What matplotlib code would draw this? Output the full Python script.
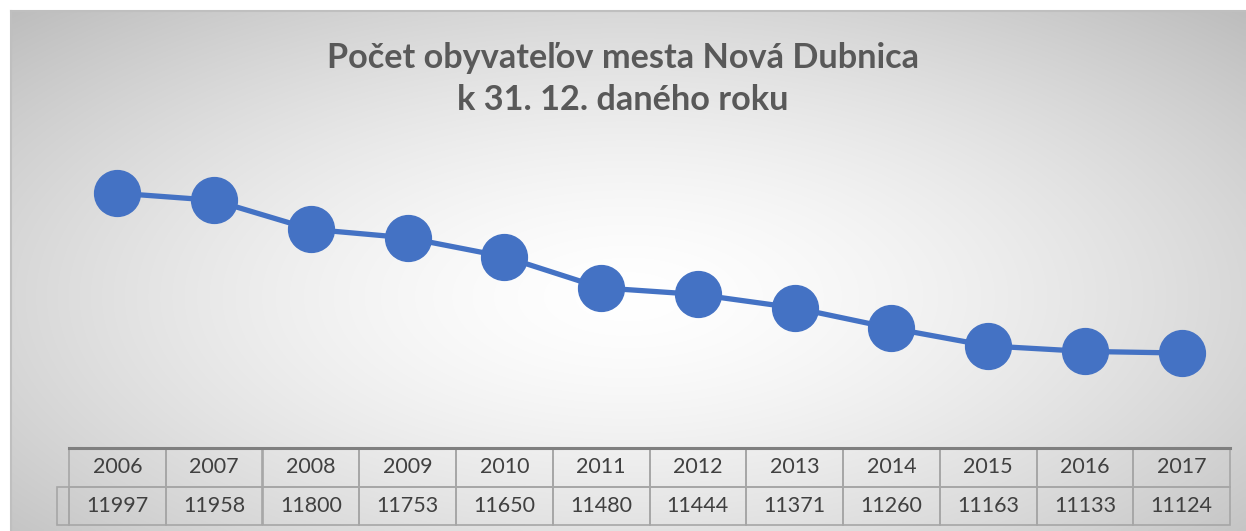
import numpy as np
import matplotlib.pyplot as plt

years = ['2006', '2007', '2008', '2009', '2010', '2011',
         '2012', '2013', '2014', '2015', '2016', '2017']
population = [11997, 11958, 11800, 11753, 11650, 11480,
              11444, 11371, 11260, 11163, 11133, 11124]

title = 'Počet obyvateľov mesta Nová Dubnica\nk 31. 12. daného roku'

W, H = 1246, 531
fig = plt.figure(figsize=(W / 100, H / 100), dpi=100)
fig.patch.set_facecolor('white')


def box(x0, y0, x1, y1):
    # pixel box (top-left origin) -> figure fraction rect
    return [x0 / W, 1 - y1 / H, (x1 - x0) / W, (y1 - y0) / H]


# radial gradient background of the chart area
bg = fig.add_axes(box(11, 11, W, H))
gx, gy = np.meshgrid(np.linspace(0, 1, 400), np.linspace(0, 1, 200))
d = np.sqrt(((gx - 0.5) / 0.5) ** 2 + ((gy - 0.55) / 0.55) ** 2) / np.sqrt(2)
d = np.clip(d, 0, 1)
v = (255 - 66 * d ** 1.5) / 255
bg.imshow(np.dstack([v, v, v]), extent=[0, 1, 0, 1], aspect='auto',
          origin='upper', interpolation='bilinear')
bg.set_xlim(0, 1)
bg.set_ylim(0, 1)
bg.set_xticks([])
bg.set_yticks([])
for s in ['right', 'bottom']:
    bg.spines[s].set_visible(False)
for s in ['top', 'left']:
    bg.spines[s].set_color('#bfbfbf')
    bg.spines[s].set_linewidth(1.5)

fig.text(0.5, 1 - 79 / H, title, ha='center', va='center',
         fontsize=24.7, fontweight='bold', color='#595959',
         family=['Lato', 'DejaVu Sans'], linespacing=1.38)

# line chart
ax = fig.add_axes(box(69, 156, 1230, 449))
ax.patch.set_alpha(0)
x = np.arange(len(years))
ax.plot(x, population, color='#4472C4', linewidth=3.8, marker='o',
        markersize=33, markerfacecolor='#4472C4', markeredgecolor='#4472C4',
        solid_capstyle='round')
ax.set_xlim(-0.5, len(years) - 0.5)
ax.set_ylim(10600, 12200)
ax.axis('off')

# data table (grid bbox covers only the 12 year columns)
tax = fig.add_axes(box(69, 448, 1230, 525))
tax.axis('off')
tbl = tax.table(cellText=[[str(p) for p in population]], colLabels=years,
                cellLoc='center', bbox=[0, 0, 1, 1])
tbl.add_cell(1, -1, width=tbl[1, 0].get_width() * 12 / 96.75,
             height=tbl[1, 0].get_height(), text='')
tbl.auto_set_font_size(False)
for (r, c), cell in tbl.get_celld().items():
    cell.set_facecolor('none')
    cell.set_edgecolor('#a6a6a6')
    cell.set_linewidth(1.2)
    cell.get_text().set_fontsize(15.5)
    cell.get_text().set_color('#404040')
    cell.get_text().set_family(['Lato', 'DejaVu Sans'])
tax.plot([0, 1], [1, 1], color='#7f7f7f', linewidth=2.2,
         transform=tax.transAxes, clip_on=False)

fig.savefig('out.png', dpi=100)
